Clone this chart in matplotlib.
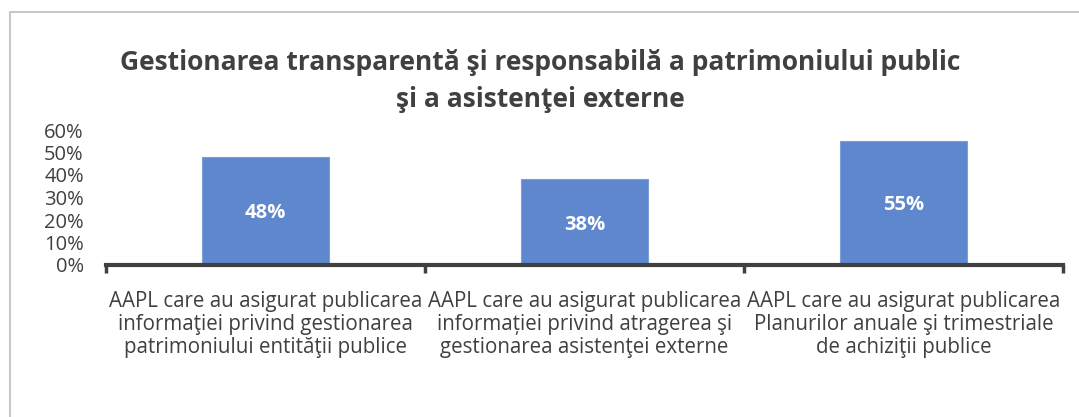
import numpy as np
import matplotlib.pyplot as plt
from matplotlib.patches import Rectangle
from matplotlib.ticker import PercentFormatter

plt.rcParams['font.family'] = ['Open Sans', 'DejaVu Sans']

title = "Gestionarea transparentă şi responsabilă a patrimoniului public\nşi a asistenţei externe"
categories = [
    "AAPL care au asigurat publicarea\ninformaţiei privind gestionarea\npatrimoniului entităţii publice",
    "AAPL care au asigurat publicarea\ninformației privind atragerea şi\ngestionarea asistenţei externe",
    "AAPL care au asigurat publicarea\nPlanurilor anuale şi trimestriale\nde achiziţii publice",
]
values = [0.48, 0.38, 0.55]
yticks = [0, 0.1, 0.2, 0.3, 0.4, 0.5, 0.6]

fig = plt.figure(figsize=(10.79, 4.17), dpi=100)
fig.patches.append(Rectangle((10 / 1079, -0.1), 1.2, 1 - 12 / 417 + 0.1,
                             transform=fig.transFigure, fill=False,
                             edgecolor='#c8c8c8', linewidth=1.5))

ax = fig.add_axes([106 / 1079, 1 - 265 / 417, 957 / 1079, 135 / 417])
x = np.arange(len(values))
bars = ax.bar(x, values, width=0.4, color='#5f87cd', edgecolor='#7d9fd9', linewidth=0.8, zorder=2)
for b, v in zip(bars, values):
    ax.text(b.get_x() + b.get_width() / 2, v / 2 - 0.01, f"{v:.0%}", ha='center', va='center',
            color='white', fontsize=14.5, fontweight='bold')

ax.set_xlim(-0.5, len(values) - 0.5)
ax.set_ylim(0, 0.6)
ax.set_yticks(yticks)
ax.yaxis.set_major_formatter(PercentFormatter(1.0, decimals=0))
ax.tick_params(axis='y', length=0, labelsize=14.5, labelcolor='#404040', pad=16)

ax.set_xticks(x)
ax.set_xticklabels(categories, fontsize=14.8, color='#404040', linespacing=1.1)
ax.set_xticks(np.arange(len(values) + 1) - 0.5, minor=True)
ax.tick_params(axis='x', which='major', length=0, pad=19)
ax.tick_params(axis='x', which='minor', length=6, width=2.5, color='#404040', direction='out')

for s in ['top', 'right', 'left']:
    ax.spines[s].set_visible(False)
ax.spines['bottom'].set_color('#404040')
ax.spines['bottom'].set_linewidth(3)

fig.text(540 / 1079, 1 - 81 / 417, title, ha='center', va='center', fontsize=19,
         fontweight='bold', color='#404040', linespacing=1.5)

fig.savefig('out.png', dpi=100)
